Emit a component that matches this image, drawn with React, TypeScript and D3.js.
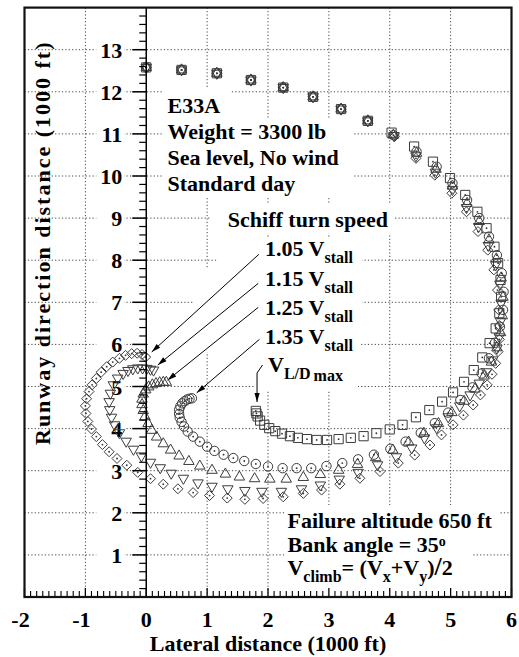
import React from 'react';
import * as d3 from 'd3';

const W = 519;
const H = 657;

// axis configuration
const X_DOMAIN: [number, number] = [-2, 6];
const Y_DOMAIN: [number, number] = [0, 14];
const X_TICKS = [-2, -1, 0, 1, 2, 3, 4, 5, 6];
const Y_TICKS = [1, 2, 3, 4, 5, 6, 7, 8, 9, 10, 11, 12, 13];
const GRID_X = [-1, 1, 2, 3, 4, 5];
const GRID_Y = [1, 2, 3, 4, 5, 6, 7, 8, 9, 10, 11, 12, 13];

type P = [number, number];

// common part of the path (all turn speeds overlap)
const climbArc: P[] = [
  [0.0, 12.58], [0.58, 12.52], [1.16, 12.44], [1.72, 12.28], [2.25, 12.1],
  [2.74, 11.88], [3.2, 11.59], [3.64, 11.31],
];

// V L/D max  (squares)
const vLDmax: P[] = [
  ...climbArc,
  [4.03, 11.03], [4.4, 10.7], [4.71, 10.34], [4.99, 9.95], [5.24, 9.55], [5.44, 9.15],
  [5.59, 8.76], [5.72, 8.32], [5.78, 7.93], [5.82, 7.53], [5.83, 7.13], [5.8, 6.74],
  [5.74, 6.38], [5.64, 6.03], [5.52, 5.69], [5.38, 5.39], [5.22, 5.11], [5.04, 4.86],
  [4.86, 4.64], [4.65, 4.44], [4.43, 4.27], [4.21, 4.09], [4.0, 3.98], [3.78, 3.89],
  [3.57, 3.82], [3.36, 3.78], [3.16, 3.75], [2.97, 3.73], [2.8, 3.73], [2.64, 3.75],
  [2.49, 3.78], [2.36, 3.82], [2.23, 3.88], [2.12, 3.94], [2.02, 4.01], [1.94, 4.09],
  [1.87, 4.19], [1.83, 4.29], [1.81, 4.36], [1.8, 4.42],
];

// 1.35 Vstall  (circles)
const v135: P[] = [
  ...climbArc,
  [4.06, 10.97], [4.44, 10.58], [4.77, 10.22], [5.03, 9.83], [5.27, 9.43], [5.47, 9.0],
  [5.63, 8.56], [5.76, 8.12], [5.84, 7.69], [5.87, 7.25], [5.86, 6.82], [5.81, 6.42],
  [5.73, 6.04], [5.63, 5.67], [5.51, 5.31], [5.36, 4.98], [5.16, 4.68], [4.96, 4.38],
  [4.74, 4.13], [4.51, 3.9], [4.26, 3.69], [4.01, 3.52], [3.74, 3.38], [3.48, 3.27],
  [3.22, 3.18], [2.96, 3.11], [2.71, 3.06], [2.47, 3.06], [2.24, 3.06], [2.0, 3.1],
  [1.8, 3.16], [1.61, 3.23], [1.43, 3.3], [1.27, 3.38], [1.12, 3.47], [1.0, 3.57],
  [0.88, 3.69], [0.77, 3.81], [0.68, 3.93], [0.62, 4.05], [0.58, 4.16], [0.55, 4.26],
  [0.54, 4.35], [0.54, 4.45], [0.56, 4.53], [0.59, 4.6], [0.63, 4.65], [0.67, 4.69],
  [0.71, 4.71], [0.75, 4.72],
];

// 1.25 Vstall  (up triangles)
const v125: P[] = [
  ...climbArc,
  [4.06, 10.97], [4.44, 10.54], [4.76, 10.16], [5.03, 9.76], [5.27, 9.35], [5.47, 8.92],
  [5.63, 8.48], [5.75, 8.03], [5.83, 7.58], [5.86, 7.12], [5.85, 6.68], [5.82, 6.28],
  [5.76, 5.92], [5.67, 5.58], [5.55, 5.25], [5.4, 4.94], [5.22, 4.65], [5.02, 4.38],
  [4.8, 4.12], [4.56, 3.89], [4.31, 3.68], [4.05, 3.49], [3.77, 3.31], [3.47, 3.15],
  [3.16, 3.01], [2.86, 2.91], [2.58, 2.84], [2.3, 2.8], [2.03, 2.8], [1.78, 2.81],
  [1.53, 2.85], [1.3, 2.92], [1.08, 3.01], [0.88, 3.11], [0.7, 3.22], [0.54, 3.35],
  [0.4, 3.49], [0.28, 3.64], [0.17, 3.8], [0.09, 3.96], [0.03, 4.12], [-0.02, 4.28],
  [-0.05, 4.43], [-0.07, 4.57], [-0.07, 4.7], [-0.05, 4.82], [-0.01, 4.92], [0.04, 4.99],
  [0.1, 5.04], [0.16, 5.07], [0.22, 5.09], [0.28, 5.1], [0.33, 5.1],
];

// 1.15 Vstall  (down triangles)
const v115: P[] = [
  ...climbArc,
  [4.07, 10.96], [4.43, 10.48], [4.75, 10.09], [5.03, 9.68], [5.26, 9.25], [5.46, 8.8],
  [5.62, 8.35], [5.74, 7.89], [5.81, 7.43], [5.83, 6.98], [5.82, 6.55], [5.8, 6.18],
  [5.76, 5.91], [5.69, 5.63], [5.59, 5.35], [5.47, 5.08], [5.32, 4.8], [5.15, 4.54],
  [4.96, 4.28], [4.77, 4.02], [4.57, 3.78], [4.36, 3.54], [4.11, 3.33], [3.8, 3.14],
  [3.48, 2.96], [3.17, 2.8], [2.86, 2.66], [2.55, 2.57], [2.22, 2.51], [1.9, 2.51],
  [1.62, 2.53], [1.34, 2.57], [1.08, 2.63], [0.85, 2.71], [0.61, 2.82], [0.41, 2.94],
  [0.23, 3.07], [0.07, 3.2], [-0.08, 3.35], [-0.21, 3.51], [-0.33, 3.7], [-0.44, 3.9],
  [-0.52, 4.09], [-0.57, 4.27], [-0.6, 4.45], [-0.61, 4.64], [-0.59, 4.84], [-0.54, 5.04],
  [-0.47, 5.2], [-0.38, 5.31], [-0.3, 5.38], [-0.22, 5.42], [-0.14, 5.44], [-0.06, 5.44],
  [0.01, 5.43], [0.07, 5.41], [0.12, 5.39],
];

// 1.05 Vstall  (diamonds)
const v105: P[] = [
  ...climbArc,
  [4.08, 10.94], [4.43, 10.42], [4.74, 10.02], [5.02, 9.59], [5.26, 9.15], [5.45, 8.68],
  [5.61, 8.24], [5.71, 7.77], [5.77, 7.29], [5.79, 6.82], [5.8, 6.45], [5.8, 6.12],
  [5.78, 5.83], [5.74, 5.55], [5.68, 5.29], [5.6, 5.04], [5.49, 4.8], [5.37, 4.56],
  [5.21, 4.32], [5.04, 4.09], [4.85, 3.85], [4.66, 3.61], [4.41, 3.37], [4.14, 3.18],
  [3.84, 2.98], [3.51, 2.82], [3.18, 2.68], [2.88, 2.54], [2.58, 2.46], [2.25, 2.38],
  [1.92, 2.34], [1.62, 2.32], [1.33, 2.35], [1.04, 2.41], [0.77, 2.48], [0.52, 2.57],
  [0.28, 2.68], [0.07, 2.81], [-0.14, 2.96], [-0.32, 3.13], [-0.48, 3.29], [-0.61, 3.45],
  [-0.72, 3.62], [-0.82, 3.81], [-0.9, 3.99], [-0.96, 4.17], [-0.99, 4.36], [-1.0, 4.54],
  [-0.98, 4.71], [-0.94, 4.88], [-0.89, 5.04], [-0.82, 5.19], [-0.74, 5.34], [-0.65, 5.47],
  [-0.55, 5.58], [-0.44, 5.67], [-0.34, 5.74], [-0.24, 5.78], [-0.15, 5.79], [-0.07, 5.76],
  [-0.01, 5.7],
];

type MarkerType = 'square' | 'circle' | 'triUp' | 'triDown' | 'diamond';
const SERIES: { name: string; data: P[]; marker: MarkerType }[] = [
  { name: '1.05 Vstall', data: v105, marker: 'diamond' },
  { name: '1.15 Vstall', data: v115, marker: 'triDown' },
  { name: '1.25 Vstall', data: v125, marker: 'triUp' },
  { name: '1.35 Vstall', data: v135, marker: 'circle' },
  { name: 'VL/Dmax', data: vLDmax, marker: 'square' },
];

// arrow annotations (tail -> tip, in data units)
const SPEED_LABELS = ['1.05', '1.15', '1.25', '1.35'];
const SPEED_LABEL_Y = [8.09, 7.39, 6.7, 6.01];
const ARROWS: P[][] = [
  [[1.85, 8.14], [0.09, 5.82]],
  [[1.84, 7.45], [0.19, 5.51]],
  [[1.84, 6.88], [0.35, 5.15]],
  [[1.86, 6.12], [0.83, 4.85]],
  [[1.91, 5.51], [1.82, 5.32], [1.82, 4.63]],
];

const sx = d3.scaleLinear().domain(X_DOMAIN).range([24.5, 511.5]);
const sy = d3.scaleLinear().domain(Y_DOMAIN).range([597, 7.6]);

function markerPath(t: MarkerType): string {
  const p = d3.path();
  if (t === 'square') {
    p.rect(-4.6, -4.6, 9.2, 9.2);
  } else if (t === 'circle') {
    p.arc(0, 0, 4.7, 0, Math.PI * 2);
    p.closePath();
  } else if (t === 'triUp' || t === 'triDown') {
    const s = 10.5;
    const h = s * 0.866;
    const k = t === 'triUp' ? 1 : -1;
    p.moveTo(0, (-h * 2) / 3 * k);
    p.lineTo(s / 2, (h / 3) * k);
    p.lineTo(-s / 2, (h / 3) * k);
    p.closePath();
  } else {
    p.moveTo(0, -5);
    p.lineTo(5, 0);
    p.lineTo(0, 5);
    p.lineTo(-5, 0);
    p.closePath();
  }
  return p.toString();
}

const FONT = "'Liberation Serif', 'Times New Roman', serif";

export default function App() {
  const x0 = sx(0);
  const yMinor = d3.range(0, 14.001, 0.2).filter((v) => Math.abs(v - Math.round(v)) > 1e-6);
  const xMinor = d3.range(-2, 6.001, 0.1).filter((v) => Math.abs(v - Math.round(v)) > 1e-6);

  const boxes = [
    [163, 88, 230, 118],
    [163, 118, 354, 197],
    [210, 203, 395, 233],
    [217, 238, 362, 268],
    [205, 268, 362, 295],
    [193, 295, 362, 323],
    [148, 323, 360, 352],
    [255, 352, 358, 390],
    [285, 505, 500, 533],
    [285, 533, 472, 559],
    [285, 559, 476, 595],
  ];

  const sub = 16;
  return (
    <svg
      width={W}
      height={H}
      style={{ position: 'absolute', left: 0, top: 0, background: '#fff' }}
      fontFamily={FONT}
      fontWeight="bold"
    >
      <rect x={0} y={0} width={W} height={H} fill="#fff" />
      {/* grid */}
      <g stroke="#444" strokeWidth={1} strokeDasharray="1.2,2.2">
        {GRID_X.map((v) => (
          <line key={'gx' + v} x1={sx(v)} x2={sx(v)} y1={sy(14)} y2={sy(0)} />
        ))}
        {GRID_Y.map((v) => (
          <line key={'gy' + v} x1={sx(-2)} x2={sx(6)} y1={sy(v)} y2={sy(v)} />
        ))}
      </g>
      {/* label backgrounds */}
      {boxes.map((b, i) => (
        <rect key={'bx' + i} x={b[0]} y={b[1]} width={b[2] - b[0]} height={b[3] - b[1]} fill="#fff" />
      ))}
      {/* y tick labels */}
      {Y_TICKS.map((v) => (
        <g key={'yl' + v}>
          <rect x={x0 - 50} y={sy(v) - 9} width={28} height={18} fill="#fff" />
          <text x={x0 - 24} y={sy(v) + 8} textAnchor="end" fontSize={22}>
            {v}
          </text>
        </g>
      ))}
      {/* annotations */}
      <g fontSize={22} fill="#000">
        <text x={sx(0.35)} y={sy(11.5)}>E33A</text>
        <text x={sx(0.35)} y={sy(10.88)}>Weight = 3300 lb</text>
        <text x={sx(0.35)} y={sy(10.26)}>Sea level, No wind</text>
        <text x={sx(0.35)} y={sy(9.64)}>Standard day</text>
        <text x={sx(1.34)} y={sy(8.79)}>Schiff turn speed</text>
        {SPEED_LABELS.map((s, i) => (
          <text key={s} x={sx(1.95)} y={sy(SPEED_LABEL_Y[i])}>
            {s} V<tspan fontSize={sub} dy={7}>stall</tspan>
          </text>
        ))}
        <text x={sx(2.0)} y={sy(5.34)}>
          V<tspan fontSize={sub} dy={7}>L/D</tspan>
          <tspan fontSize={sub} dx={3} dy={2}>max</tspan>
        </text>
        <text x={sx(2.32)} y={sy(1.64)}>Failure altitude 650 ft</text>
        <text x={sx(2.32)} y={sy(1.07)}>
          Bank angle = 35<tspan fontSize={14} dy={-6}>o</tspan>
        </text>
        <text x={sx(2.32)} y={sy(0.52)}>
          V<tspan fontSize={sub} dy={7}>climb</tspan>
          <tspan dy={-7}>= (V</tspan>
          <tspan fontSize={sub} dy={7}>x</tspan>
          <tspan dy={-7}>+V</tspan>
          <tspan fontSize={sub} dy={7}>y</tspan>
          <tspan dy={-7}>)</tspan>
          <tspan fontSize={26}>/</tspan>
          <tspan>2</tspan>
        </text>
      </g>
      {/* arrows */}
      <g stroke="#000" strokeWidth={1} fill="none">
        {ARROWS.map((a, i) => {
          const pts = a.map(([px, py]) => [sx(px), sy(py)] as [number, number]);
          const n = pts.length;
          const [tx, ty] = pts[n - 1];
          const [fx, fy] = pts[n - 2];
          const ang = Math.atan2(ty - fy, tx - fx);
          const L = 9;
          const w = 2.6;
          const bx = tx - L * Math.cos(ang);
          const by = ty - L * Math.sin(ang);
          const head = `M${tx},${ty}L${bx + w * Math.sin(ang)},${by - w * Math.cos(ang)}L${bx - w * Math.sin(ang)},${by + w * Math.cos(ang)}Z`;
          return (
            <g key={'ar' + i}>
              <path d={d3.line()(pts) || ''} />
              <path d={head} fill="#000" stroke="none" />
            </g>
          );
        })}
      </g>
      {/* data */}
      {SERIES.map((s) => {
        const d = markerPath(s.marker);
        const dot = s.marker === 'square' || s.marker === 'circle' || s.marker === 'diamond';
        return (
          <g key={s.name}>
            {s.data.map(([px, py], i) => (
              <g key={i} transform={`translate(${sx(px)},${sy(py)})`}>
                <path d={d} fill="none" stroke="#3c3c3c" strokeWidth={1} />
                {dot && <circle r={0.9} fill="#333" />}
              </g>
            ))}
          </g>
        );
      })}
      {/* y axis at x=0 */}
      <g stroke="#000">
        <line x1={x0} x2={x0} y1={sy(14)} y2={sy(0)} strokeWidth={1.5} />
        {yMinor.map((v) => (
          <line key={'ym' + v} x1={x0 - 7} x2={x0} y1={sy(v)} y2={sy(v)} strokeWidth={1.2} />
        ))}
        {Y_TICKS.map((v) => (
          <line key={'yM' + v} x1={x0 - 14} x2={x0} y1={sy(v)} y2={sy(v)} strokeWidth={1.5} />
        ))}
        {xMinor.map((v) => (
          <line key={'xm' + v} x1={sx(v)} x2={sx(v)} y1={sy(0)} y2={sy(0) - 6} strokeWidth={1.1} />
        ))}
        {X_TICKS.map((v) => (
          <line key={'xM' + v} x1={sx(v)} x2={sx(v)} y1={sy(0)} y2={sy(0) - 9} strokeWidth={1.3} />
        ))}
      </g>
      {/* frame */}
      <rect
        x={sx(-2)}
        y={sy(14)}
        width={sx(6) - sx(-2)}
        height={sy(0) - sy(14)}
        fill="none"
        stroke="#111"
        strokeWidth={2.2}
      />
      {/* x tick labels */}
      {X_TICKS.map((v) => (
        <text key={'xl' + v} x={sx(v) - (v < 0 ? 4 : 0)} y={627} textAnchor="middle" fontSize={22}>
          {v}
        </text>
      ))}
      <text x={(sx(-2) + sx(6)) / 2} y={651} textAnchor="middle" fontSize={22}>
        Lateral distance (1000 ft)
      </text>
      <text
        transform={`translate(50,445) rotate(-90)`}
        textAnchor="start"
        fontSize={22}
        letterSpacing={2}
      >
        Runway direction distance (1000 ft)
      </text>
    </svg>
  );
}
